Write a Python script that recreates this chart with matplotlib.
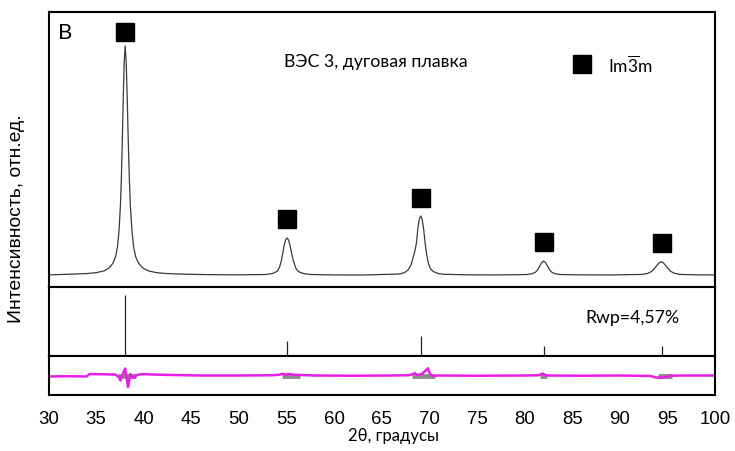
#!/usr/bin/env python3
# -*- coding: utf-8 -*-

import numpy as np
import matplotlib
matplotlib.use("Agg")
import matplotlib.pyplot as plt

two_theta = [30.0, 32.0, 34.0, 35.0, 35.85, 36.35, 36.75, 37.05, 37.25, 37.4,
             37.55, 37.65, 37.75, 37.85, 37.95, 38.05, 38.16, 38.27, 38.38, 38.49,
             38.6, 38.77, 38.93, 39.15, 39.48, 39.92, 40.47, 41.35, 42.45, 44.65,
             47.0, 50.0,
             52.75, 53.35, 53.75, 54.05, 54.25, 54.45, 54.6, 54.75, 54.9, 55.05,
             55.2, 55.37, 55.54, 55.72, 55.95, 56.17, 56.5, 56.95, 57.6,
             60.0, 63.0,
             66.8, 67.4, 67.8, 68.1, 68.3, 68.5, 68.65, 68.8, 68.95, 69.1,
             69.25, 69.4, 69.55, 69.7, 69.9, 70.1, 70.4, 70.8, 71.4,
             74.0, 77.0,
             80.2, 80.8, 81.15, 81.4, 81.6, 81.8, 82.0, 82.2, 82.4, 82.6,
             82.85, 83.2, 83.8,
             86.0, 89.0,
             92.35, 92.95, 93.35, 93.6, 93.85, 94.1, 94.35, 94.6, 94.85, 95.1,
             95.35, 95.75, 96.35, 98.0, 100.0]
intensity = [502, 528, 557, 595, 671, 785, 975, 1260, 1688, 2305,
             3350, 4490, 6010, 7815, 9335, 10000, 9335, 7815, 6010, 4490,
             3350, 2305, 1688, 1260, 975, 785, 671, 595, 557, 528,
             512, 505,
             518, 546, 592, 669, 807, 1083, 1390, 1727, 1957, 2034,
             1957, 1727, 1390, 1083, 807, 669, 592, 546, 518,
             500, 498,
             537, 598, 720, 940, 1234, 1528, 1846, 2458, 2825, 2947,
             2800, 2409, 1846, 1381, 989, 769, 647, 573, 529,
             505, 500,
             517, 552, 616, 732, 877, 1010, 1080, 1010, 877, 732,
             616, 552, 517,
             503, 500,
             522, 566, 649, 748, 874, 995, 1050, 995, 874, 748,
             649, 566, 522, 505, 500]

# Bragg positions of Im-3m phase and relative heights of the bars
bragg_pos = [38.03, 55.05, 69.16, 82.0, 94.4]
bragg_height = [100, 25, 32, 16, 16]

# difference curve
diff_x = [30, 32, 34, 34.3, 36, 37.0, 37.4, 37.55, 37.75, 37.9, 38.05, 38.2,
          38.35, 38.5, 38.6, 38.8, 38.95, 39.3, 39.8, 41, 43, 46, 50,
          53.5, 54.2, 54.6, 54.9, 55.3, 55.8, 56.5, 58, 62, 66,
          67.8, 68.3, 68.5, 68.7, 69.2, 69.6, 69.85, 70.05, 70.3, 71, 75,
          80, 81.5, 81.9, 82.3, 86, 90, 93.2, 93.8, 94.3, 94.8, 95.4, 97, 100]
diff_y = [-40, -30, -40, 60, 50, 40, -60, -210, 0, 150, 290, -100,
          -480, -150, 60, -40, -85, 20, 60, 40, 20, 0, 0,
          10, 30, 70, 40, 60, 30, 20, 0, -10, 0,
          10, 60, 100, 20, 60, 200, 300, 80, -20, 0, -10,
          0, 10, 80, 0, -10, 0, -20, -80, -90, -60, -10, 0, 0]

# grey segments under the difference curve
band_start = [37.3, 54.5, 68.2, 81.6, 94.0]
band_end = [39.2, 56.4, 70.6, 82.4, 95.5]

x_ticks = list(range(30, 101, 5))

plt.rcParams['font.family'] = ['Lato', 'DejaVu Sans']
plt.rcParams['mathtext.fontset'] = 'custom'
plt.rcParams['mathtext.rm'] = 'Lato'
plt.rcParams['axes.linewidth'] = 1.5

fig = plt.figure(figsize=(7.35, 4.52), dpi=100)
W, H = 735, 452
left, right = 48.5 / W, 715 / W


def add_panel(top_px, bottom_px):
    return fig.add_axes([left, 1 - bottom_px / H, right - left,
                         (bottom_px - top_px) / H])


ax1 = add_panel(13, 288)
ax2 = add_panel(288, 357)
ax3 = add_panel(357, 396)

for ax in (ax1, ax2, ax3):
    ax.set_xlim(30, 100)
    ax.tick_params(length=0)
    ax.set_yticks([])
ax1.set_xticks([])
ax2.set_xticks([])

# pattern
ax1.plot(two_theta, intensity, color='#3a3a3a', lw=0.9)
ax1.set_ylim(0, 11412)
peak_top = np.interp(bragg_pos, two_theta, intensity)
sq_y = peak_top + 790
sq_y[0] = peak_top[0] + 700
ax1.plot(bragg_pos, sq_y, 's', color='black', ms=13.5, ls='none')
ax1.plot([86.05], [9271], 's', color='black', ms=13.5)
ax1.text(0.014, 0.927, 'В', transform=ax1.transAxes, fontsize=16,
         va='center', ha='left')
ax1.text(0.353, 0.822, 'ВЭС 3, дуговая плавка', transform=ax1.transAxes,
         fontsize=12.8, va='center', ha='left')
ax1.text(0.839, 0.811, r'$\mathrm{Im}\overline{3}\mathrm{m}$',
         transform=ax1.transAxes, fontsize=12.5, va='center', ha='left')

# Bragg bars
ax2.vlines(bragg_pos, 0, bragg_height, color='#222222', lw=0.9)
ax2.set_ylim(0, 113)
ax2.text(0.946, 0.565, 'Rwp=4,57%', transform=ax2.transAxes, fontsize=12.7,
         va='center', ha='right')

# difference
for a, b in zip(band_start, band_end):
    ax3.plot([a, b], [-40, -40], color='#8c8c8c', lw=3.5, solid_capstyle='butt')
ax3.plot(diff_x, diff_y, color='#e81ee8', lw=1.8)
ax3.set_ylim(-810, 810)
ax3.set_xticks(x_ticks, labels=[str(t) for t in x_ticks],
               fontfamily='Liberation Sans', fontsize=13.4)
ax3.tick_params(axis='x', pad=10.5)

fig.text(17 / W, 1 - 219 / H, 'Интенсивность, отн.ед.', rotation=90,
         ha='center', va='center', fontsize=13.9, family='Liberation Sans')
fig.text(394 / W, 1 - 436 / H, '2θ, градусы', ha='center', va='center',
         fontsize=12)

fig.savefig('out.png', dpi=100)
